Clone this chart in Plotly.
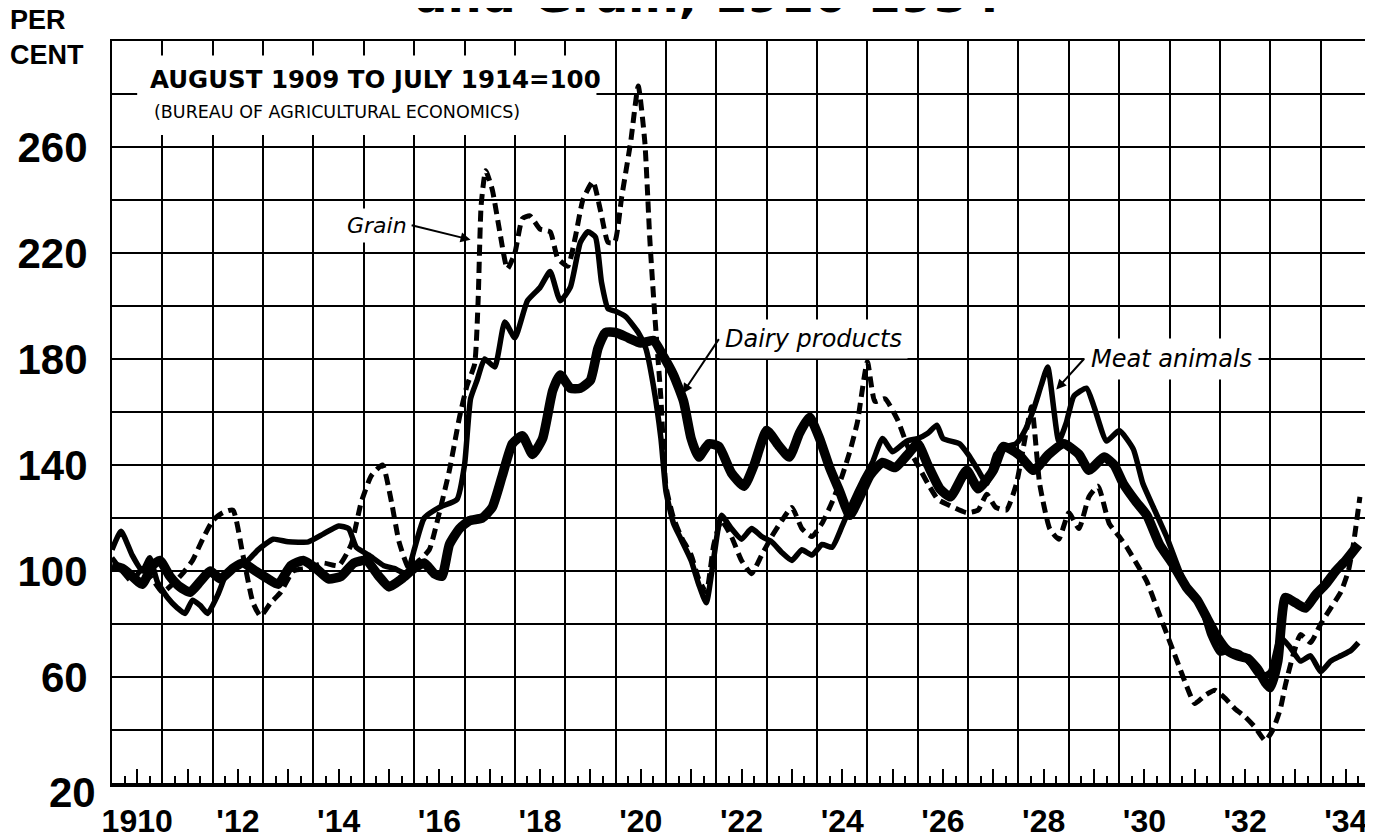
import plotly.graph_objects as go

# ---------------- data ----------------
grain_x = [1910.0, 1910.2, 1910.4, 1910.6, 1910.8, 1911.0, 1911.2, 1911.4, 1911.6, 1911.8,
           1912.0, 1912.2, 1912.4, 1912.6, 1912.8, 1912.95, 1913.15, 1913.35, 1913.6, 1913.9,
           1914.2, 1914.5, 1914.75, 1914.95, 1915.15, 1915.37, 1915.55, 1915.7, 1915.9, 1916.1,
           1916.3, 1916.5, 1916.7, 1916.9, 1917.05, 1917.2, 1917.27, 1917.33, 1917.42, 1917.55,
           1917.7, 1917.85, 1918.0, 1918.15, 1918.3, 1918.5, 1918.7, 1918.85, 1919.05, 1919.2,
           1919.35, 1919.55, 1919.7, 1919.85, 1919.98, 1920.12, 1920.3, 1920.45, 1920.58, 1920.68,
           1920.78, 1920.9, 1921.0, 1921.15, 1921.3, 1921.5, 1921.65, 1921.8, 1921.95, 1922.1,
           1922.3, 1922.5, 1922.7, 1922.9, 1923.1, 1923.3, 1923.5, 1923.7, 1923.9, 1924.1,
           1924.3, 1924.5, 1924.65, 1924.8, 1925.0, 1925.15, 1925.35, 1925.6, 1925.8, 1926.0,
           1926.2, 1926.4, 1926.6, 1926.97, 1927.2, 1927.37, 1927.55, 1927.76, 1927.96, 1928.1,
           1928.26, 1928.42, 1928.62, 1928.8, 1929.0, 1929.2, 1929.4, 1929.58, 1929.8, 1930.0,
           1930.15, 1930.4, 1930.55, 1930.75, 1930.95, 1931.15, 1931.35, 1931.5, 1931.7, 1931.9,
           1932.1, 1932.3, 1932.5, 1932.7, 1932.9, 1933.05, 1933.2, 1933.3, 1933.45, 1933.6,
           1933.8, 1934.0, 1934.2, 1934.4, 1934.55, 1934.65, 1934.78]
grain_y = [105, 100, 96, 101, 97, 92, 95, 99, 104, 112,
           119, 122, 123, 106, 88, 83, 88, 92, 100, 101,
           103, 102, 110, 126, 136, 140, 126, 111, 101, 104,
           108, 122, 138, 158, 170, 178, 202, 238, 251, 244,
           228, 214, 220, 233, 234, 229, 228, 218, 215, 226,
           240, 247, 236, 224, 224, 241, 262, 283, 262, 225,
           196, 165, 132, 120, 113, 106, 97, 92, 110, 119,
           113, 104, 99, 106, 113, 119, 124, 116, 113, 118,
           126, 136, 145, 156, 179, 164, 165, 157, 147, 140,
           133, 127, 125, 122, 123, 129, 124, 123, 133, 147,
           162, 133, 116, 112, 122, 116, 128, 132, 118, 113,
           109, 101, 96, 86, 76, 66, 56, 50, 53, 55,
           52, 48, 45, 41, 36, 40, 48, 57, 68, 76,
           73, 80, 86, 92, 100, 110, 128]

meat_x = [1910.0, 1910.18, 1910.4, 1910.6, 1910.75, 1910.9, 1911.1, 1911.3, 1911.45, 1911.6,
          1911.75, 1911.9, 1912.1, 1912.3, 1912.5, 1912.7, 1912.9, 1913.2, 1913.5, 1913.9,
          1914.2, 1914.5, 1914.7, 1914.85, 1915.1, 1915.4, 1915.6, 1915.85, 1916.0, 1916.2,
          1916.5, 1916.85, 1917.0, 1917.12, 1917.25, 1917.4, 1917.6, 1917.8, 1918.0, 1918.25,
          1918.5, 1918.7, 1918.9, 1919.1, 1919.3, 1919.45, 1919.6, 1919.72, 1919.85, 1920.0,
          1920.2, 1920.45, 1920.6, 1920.75, 1920.9, 1921.0, 1921.15, 1921.3, 1921.5, 1921.65,
          1921.8, 1921.95, 1922.1, 1922.3, 1922.5, 1922.7, 1922.9, 1923.1, 1923.3, 1923.5,
          1923.7, 1923.9, 1924.1, 1924.3, 1924.5, 1924.7, 1924.9, 1925.1, 1925.3, 1925.5,
          1925.78, 1926.0, 1926.2, 1926.38, 1926.5, 1926.83, 1927.0, 1927.2, 1927.37, 1927.55,
          1927.76, 1927.95, 1928.1, 1928.3, 1928.45, 1928.58, 1928.8, 1928.95, 1929.1, 1929.35,
          1929.5, 1929.75, 1930.0, 1930.28, 1930.47, 1930.68, 1930.94, 1931.2, 1931.4, 1931.6,
          1931.8, 1932.0, 1932.2, 1932.4, 1932.6, 1932.8, 1933.0, 1933.2, 1933.4, 1933.6,
          1933.8, 1934.0, 1934.2, 1934.4, 1934.6, 1934.75]
meat_y = [108, 115, 106, 100, 105, 96, 90, 86, 84, 89,
          87, 84, 91, 100, 102, 104, 108, 112, 111, 111,
          114, 117, 116, 109, 106, 102, 101, 99, 108, 120,
          124, 127, 140, 165, 172, 180, 177, 194, 188, 202,
          207, 213, 202, 207, 224, 228, 226, 209, 199, 198,
          196, 190, 184, 170, 150, 130, 118, 112, 104, 95,
          88, 105, 121, 116, 112, 116, 113, 111, 107, 104,
          108, 106, 110, 109, 117, 126, 134, 141, 150, 145,
          149, 150, 152, 155, 150, 148, 144, 138, 133, 144,
          147, 148, 152, 161, 170, 177, 149, 156, 166, 169,
          162, 149, 153, 146, 133, 124, 113, 100, 92, 88,
          76, 69, 70, 69, 65, 60, 62, 75, 71, 66,
          68, 62, 66, 68, 70, 73]

dairy_x = [1910.0, 1910.2, 1910.4, 1910.6, 1910.8, 1910.95, 1911.15, 1911.35, 1911.55, 1911.75,
           1911.95, 1912.15, 1912.4, 1912.6, 1912.85, 1913.1, 1913.3, 1913.55, 1913.8, 1914.05,
           1914.3, 1914.55, 1914.8, 1915.05, 1915.3, 1915.5, 1915.75, 1916.0, 1916.2, 1916.4,
           1916.55, 1916.7, 1916.9, 1917.1, 1917.35, 1917.55, 1917.75, 1917.95, 1918.15, 1918.35,
           1918.55, 1918.75, 1918.9, 1919.1, 1919.3, 1919.5, 1919.65, 1919.8, 1920.0, 1920.25,
           1920.5, 1920.75, 1920.95, 1921.15, 1921.35, 1921.5, 1921.65, 1921.85, 1922.05, 1922.3,
           1922.55, 1922.75, 1923.0, 1923.25, 1923.45, 1923.65, 1923.85, 1924.05, 1924.25, 1924.45,
           1924.65, 1924.85, 1925.05, 1925.3, 1925.55, 1925.8, 1926.0, 1926.2, 1926.44, 1926.65,
           1926.97, 1927.2, 1927.5, 1927.7, 1928.0, 1928.3, 1928.6, 1928.9, 1929.2, 1929.4,
           1929.7, 1929.9, 1930.08, 1930.34, 1930.55, 1930.8, 1931.05, 1931.33, 1931.55, 1931.75,
           1931.95, 1932.15, 1932.35, 1932.55, 1932.75, 1932.9, 1933.0, 1933.15, 1933.3, 1933.5,
           1933.7, 1933.9, 1934.1, 1934.3, 1934.5, 1934.75]
dairy_y = [102, 101, 98, 95, 102, 104, 98, 94, 92, 96,
           100, 97, 101, 103, 100, 97, 95, 102, 104, 101,
           97, 98, 103, 104, 98, 94, 97, 101, 103, 99,
           98, 110, 116, 119, 120, 124, 136, 148, 151, 144,
           150, 168, 174, 169, 169, 172, 184, 190, 190, 188,
           186, 187, 181, 174, 164, 150, 143, 148, 147, 137,
           132, 140, 153, 147, 143, 152, 158, 150, 139, 130,
           121, 128, 136, 141, 139, 144, 148, 140, 131, 128,
           138, 131, 138, 147, 144, 138, 144, 148, 144, 138,
           143, 140, 133, 126, 121, 110, 103, 94, 89, 82,
           75, 70, 68, 67, 63, 58, 56, 66, 90, 88,
           86, 91, 95, 100, 104, 110]

year_labels = ["1910", "", "'12", "", "'14", "", "'16", "", "'18", "", "'20", "", "'22", "",
               "'24", "", "'26", "", "'28", "", "'30", "", "'32", "", "'34"]
y_label_vals = [60, 100, 140, 180, 220, 260]
y_bottom_label = 20

# ---------------- figure ----------------
X0, X1 = 1910, 1935
Y0, Y1 = 20, 300
LABEL_FONT = "Liberation Sans, Arial, sans-serif"
HAND_FONT = "DejaVu Sans, Verdana, sans-serif"

fig = go.Figure()
fig.add_trace(go.Scatter(x=grain_x, y=grain_y, mode="lines", name="Grain",
                         line=dict(color="black", width=5, dash="11px,6px", shape="spline", smoothing=0.5)))
fig.add_trace(go.Scatter(x=meat_x, y=meat_y, mode="lines", name="Meat animals",
                         line=dict(color="black", width=5.5, shape="spline", smoothing=0.5)))
fig.add_trace(go.Scatter(x=dairy_x, y=dairy_y, mode="lines", name="Dairy products",
                         line=dict(color="black", width=9.5, shape="spline", smoothing=0.5)))
# empty trace that only puts the yearly grid axis (x2) into use
fig.add_trace(go.Scatter(x=[None], y=[None], xaxis="x2", yaxis="y", mode="lines",
                         hoverinfo="skip", showlegend=False))

tickvals_half = [X0 + i + 0.5 for i in range(X1 - X0)]

fig.update_layout(
    width=1373, height=839, autosize=False,
    margin=dict(l=104, r=8, t=33, b=50, pad=0),
    paper_bgcolor="white", plot_bgcolor="white",
    showlegend=False,
    xaxis=dict(range=[X0, X1], tickmode="array", tickvals=tickvals_half, ticktext=year_labels,
               ticks="inside", ticklen=14, tickwidth=2, tickcolor="black",
               minor=dict(tick0=X0, dtick=0.25, ticks="inside", ticklen=7, tickwidth=2,
                          tickcolor="black", showgrid=False),
               showgrid=False, zeroline=False, showline=True, linewidth=4, linecolor="black",
               tickfont=dict(family=LABEL_FONT, size=32, color="black", weight="bold"),
               ticklabelstandoff=7, fixedrange=True),
    xaxis2=dict(range=[X0, X1], overlaying="x", anchor="y", side="top",
                tickmode="linear", tick0=X0, dtick=1, showticklabels=False, ticks="",
                showgrid=True, gridcolor="black", gridwidth=2, zeroline=False,
                showline=True, linewidth=2, linecolor="black", fixedrange=True),
    yaxis=dict(range=[Y0, Y1], tickmode="array", tickvals=y_label_vals,
               ticktext=[str(v) for v in y_label_vals], ticks="",
               showgrid=True, gridcolor="black", gridwidth=2,
               minor=dict(tick0=Y0, dtick=20, showgrid=True, gridcolor="black", gridwidth=2, ticks=""),
               zeroline=False, showline=True, linewidth=2, linecolor="black", mirror=True,
               tickfont=dict(family=LABEL_FONT, size=42, color="black", weight="bold"),
               ticklabelstandoff=14, fixedrange=True),
)

# mask for the note box in the upper-left (leaves short ticks on the grid lines)
fig.add_shape(type="rect", xref="x", yref="y", x0=1910.5, x1=1919.62, y0=264.5, y1=294.5,
              fillcolor="white", line=dict(width=0), layer="between")

# ---------------- texts ----------------
# second line of the page title, mostly cut off by the top edge (as in the reference)
fig.add_annotation(xref="paper", yref="paper", x=(405 - 104) / 1261, y=1 + (33 - 17) / 756,
                   xanchor="left", yanchor="bottom", text="<b>and Grain, 1910-1934</b>",
                   showarrow=False, font=dict(family=HAND_FONT, size=48, color="black"))
fig.add_annotation(xref="paper", yref="paper", x=-104 / 1261, y=1 + 39 / 756, xanchor="left", yanchor="top",
                   text="<b>PER<br>CENT</b>", showarrow=False, align="left",
                   font=dict(family=LABEL_FONT, size=27, color="black"))
fig.add_annotation(xref="paper", yref="y", x=-14 / 1261, y=y_bottom_label, xanchor="right", yanchor="middle",
                   yshift=-9, text="<b>%d</b>" % y_bottom_label, showarrow=False,
                   font=dict(family=LABEL_FONT, size=42, color="black"))
fig.add_annotation(xref="x", yref="y", x=1910.72, y=285.5, xanchor="left", yanchor="middle",
                   text="<b>AUGUST 1909 TO JULY 1914=100</b>", showarrow=False,
                   font=dict(family=HAND_FONT, size=24.5, color="black"))
fig.add_annotation(xref="x", yref="y", x=1910.8, y=273.3, xanchor="left", yanchor="middle",
                   text="(BUREAU OF AGRICULTURAL ECONOMICS)", showarrow=False,
                   font=dict(family=HAND_FONT, size=17.5, color="black"))

fig.add_annotation(xref="x", yref="y", x=1917.12, y=225, ax=1915.95, ay=230.5, axref="x", ayref="y",
                   text="<i>Grain</i>", showarrow=True, arrowhead=2, arrowsize=1, arrowwidth=2,
                   arrowcolor="black", standoff=0, startstandoff=0, xanchor="right", yanchor="middle",
                   bgcolor="white", borderpad=4,
                   font=dict(family=HAND_FONT, size=22, color="black"))
fig.add_annotation(xref="x", yref="y", x=1921.33, y=167, ax=1922.05, ay=187.5, axref="x", ayref="y",
                   text="<i>Dairy products</i>", showarrow=True, arrowhead=2, arrowsize=1, arrowwidth=2,
                   arrowcolor="black", standoff=0, xanchor="left", yanchor="middle", bgcolor="white", borderpad=5,
                   font=dict(family=HAND_FONT, size=24, color="black"))
fig.add_annotation(xref="x", yref="y", x=1928.75, y=168.5, ax=1929.3, ay=180, axref="x", ayref="y",
                   text="<i>Meat animals</i>", showarrow=True, arrowhead=2, arrowsize=1, arrowwidth=2,
                   arrowcolor="black", standoff=0, xanchor="left", yanchor="middle", bgcolor="white", borderpad=6,
                   font=dict(family=HAND_FONT, size=24, color="black"))

fig.write_html("out.html")
